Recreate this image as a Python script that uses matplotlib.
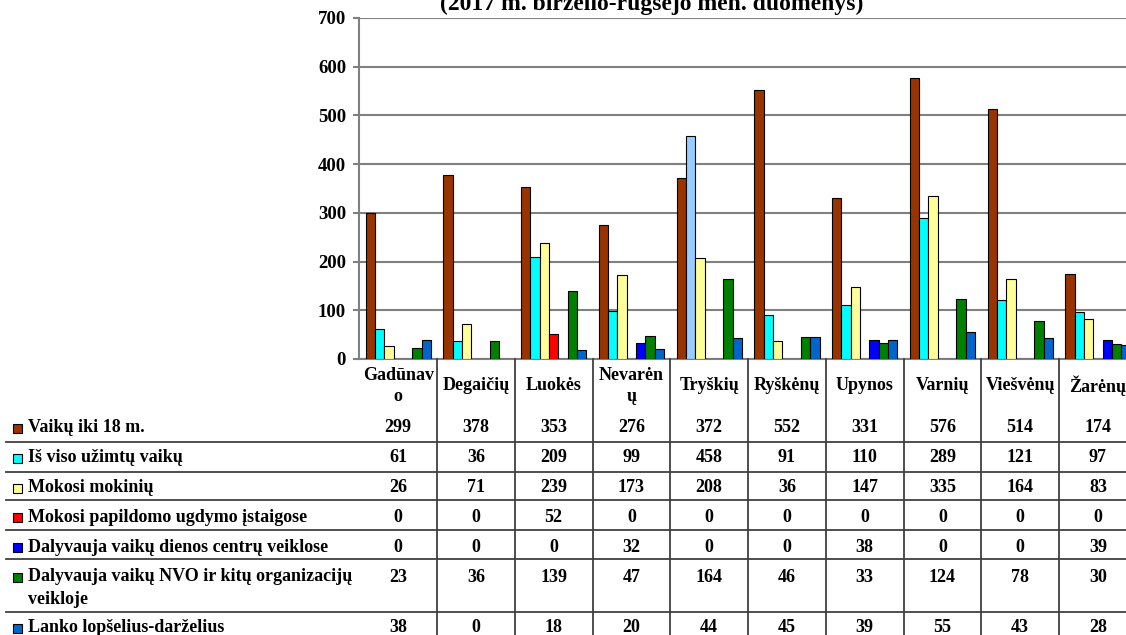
import numpy as np
import matplotlib
matplotlib.use('Agg')
import matplotlib.pyplot as plt
from matplotlib.lines import Line2D
from matplotlib.patches import Rectangle
import matplotlib.transforms as mtransforms

plt.rcParams['font.family'] = ['Liberation Serif', 'DejaVu Serif']
plt.rcParams['font.weight'] = 'bold'

# data
categories = ['Gadūnav\no', 'Degaičių', 'Luokės', 'Nevarėn\nų', 'Tryškių',
              'Ryškėnų', 'Upynos', 'Varnių', 'Viešvėnų', 'Žarėnų']
series_names = ['Vaikų iki 18 m.',
                'Iš viso užimtų vaikų',
                'Mokosi mokinių',
                'Mokosi papildomo ugdymo įstaigose',
                'Dalyvauja vaikų dienos centrų veiklose',
                'Dalyvauja vaikų NVO ir kitų organizacijų\nveikloje',
                'Lanko lopšelius-darželius']
vaiku = [299, 378, 353, 276, 372, 552, 331, 576, 514, 174]
uzimtu = [61, 36, 209, 99, 458, 91, 110, 289, 121, 97]
mokiniu = [26, 71, 239, 173, 208, 36, 147, 335, 164, 83]
papild = [0, 0, 52, 0, 0, 0, 0, 0, 0, 0]
dienos = [0, 0, 0, 32, 0, 0, 38, 0, 0, 39]
nvo = [23, 36, 139, 47, 164, 46, 33, 124, 78, 30]
darzel = [38, 0, 18, 20, 44, 45, 39, 55, 43, 28]
series = [vaiku, uzimtu, mokiniu, papild, dienos, nvo, darzel]
colors = ['#993300', '#00FFFF', '#FFFF99', '#FF0000', '#0000FF', '#008000', '#0066CC']
highlight_color = '#99CCFF'   # Tryškių "Iš viso" bar is coloured differently
title = '(2017 m. birželio-rugsėjo mėn. duomenys)'

W, H = 1126, 635
fig = plt.figure(figsize=(W / 100, H / 100), dpi=100)

def fx(x):
    return x / W

def fy(y):
    return 1 - y / H

ax_left, ax_right, ax_top, ax_bot = 359.3, 1136.8, 18, 359
ax = fig.add_axes([fx(ax_left), fy(ax_bot), fx(ax_right - ax_left), (ax_bot - ax_top) / H])

n = len(categories)
bw = 0.12
centers = np.arange(n) + 0.5
for k, vals in enumerate(series):
    xs = centers + (k - 3) * bw
    bars = ax.bar(xs, vals, width=bw, color=colors[k], edgecolor='black', linewidth=0.8, zorder=3)
    if k == 1:
        bars[4].set_facecolor(highlight_color)

ax.set_xlim(0, n)
ax.set_ylim(0, 700)
ax.set_yticks(range(0, 701, 100))
ax.set_xticks([])
ax.yaxis.grid(True, color='#808080', linewidth=1.5, zorder=0)
for s in ['top', 'right']:
    ax.spines[s].set_visible(False)
ax.spines['left'].set_color('#808080')
ax.spines['left'].set_linewidth(1.5)
ax.spines['bottom'].set_color('#808080')
ax.spines['bottom'].set_linewidth(1.5)
ax.tick_params(axis='y', length=4, color='#808080', width=1.5, pad=5.5, labelsize=13.5)

# title is cut by the top edge, as in the source picture
fig.text(fx(652), fy(10), title, ha='center', va='baseline', fontsize=17)

# table
blend = mtransforms.blended_transform_factory(ax.transData, fig.transFigure)
line_c = '#404040'
fs = 13

for i in range(1, n + 1):
    fig.add_artist(Line2D([i, i], [0, fy(ax_bot)], transform=blend, color=line_c, lw=1.3, clip_on=False))

for i, c in enumerate(categories):
    fig.text(centers[i], fy(386), c, transform=blend, ha='center', va='center',
             fontsize=fs, linespacing=1.35)

row_y = [428, 458, 488, 517, 547, 577, 628]
row_lines = [442, 472, 500, 530, 559, 612]
for y in row_lines:
    fig.add_artist(Line2D([fx(6), 1], [fy(y), fy(y)], transform=fig.transFigure, color=line_c, lw=1.3))

for k, name in enumerate(series_names):
    y = row_y[k]
    fig.add_artist(Rectangle((fx(13), fy(y + 4.5)), fx(9), 9 / H, transform=fig.transFigure,
                             facecolor=colors[k], edgecolor='black', lw=0.8))
    if '\n' in name:
        fig.text(fx(28), fy(y - 9), name, ha='left', va='top', fontsize=fs, linespacing=1.45)
    else:
        fig.text(fx(28), fy(y), name, ha='left', va='center', fontsize=fs)
    for i, v in enumerate(series[k]):
        fig.text(centers[i], fy(y), str(v), transform=blend, ha='center', va='center', fontsize=fs)

fig.savefig('out.png', dpi=100)
